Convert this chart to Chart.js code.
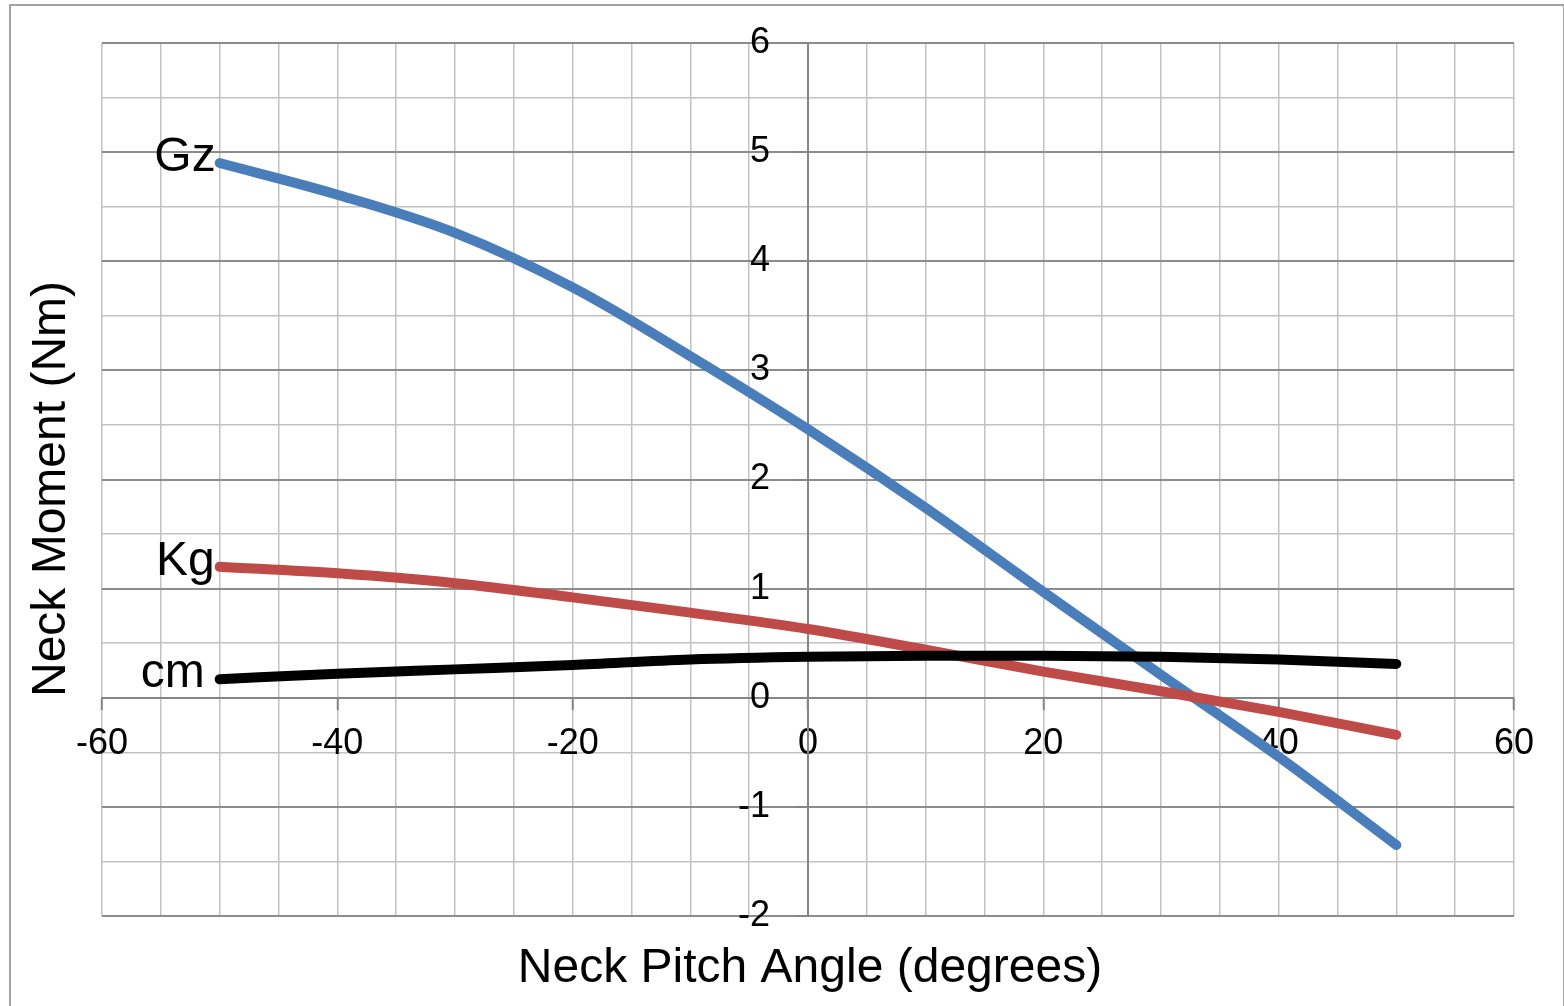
<!DOCTYPE html>
<html>
<head>
<meta charset="utf-8">
<script src="https://cdn.jsdelivr.net/npm/chart.js@4.4.1/dist/chart.umd.min.js"></script>
<style>
  html, body { margin: 0; padding: 0; background: #ffffff; }
  canvas { display: block; }
</style>
</head>
<body>
<canvas id="chart" width="1564" height="1006"></canvas>
<script>
// Neck pitch angle (degrees) at which each moment was evaluated
const angles = [-50, -40, -30, -20, -10, 0, 10, 20, 30, 40, 50];
// Neck moment components (Nm)
const gzValues = [4.90, 4.61, 4.26, 3.76, 3.13, 2.46, 1.74, 0.97, 0.21, -0.54, -1.35];
const kgValues = [1.20, 1.14, 1.05, 0.92, 0.78, 0.63, 0.44, 0.24, 0.06, -0.13, -0.34];
const cmValues = [0.17, 0.22, 0.26, 0.30, 0.35, 0.375, 0.385, 0.385, 0.375, 0.35, 0.31];
const seriesNames = ['Gz', 'Kg', 'cm'];

// Axis ranges and tick spacing
const xRange = [-60, 60];
const yRange = [-2, 6];
const xMajorStep = 20, xMinorStep = 5;
const yMajorStep = 1, yMinorStep = 0.5;
const xTitle = 'Neck Pitch Angle (degrees)';
const yTitle = 'Neck Moment (Nm)';

const FONT = "'Liberation Sans', Arial, Helvetica, sans-serif";
const AXIS_COLOR = '#868686';
const MAJOR_GRID = '#8c8c8c';
const MINOR_GRID = '#c2c2c2';

const toPoints = vals => angles.map((a, i) => ({ x: a, y: vals[i] }));
const isMultiple = (v, step) => Math.abs(v / step - Math.round(v / step)) < 1e-9;

// Series name written just left of each curve's first point
const seriesLabelStyle = [
  { dx: 4, dy: 8 },
  { dx: 5, dy: 8 },
  { dx: 15, dy: 8 }
];

const decorations = {
  id: 'decorations',
  beforeDraw(chart) {
    const c = chart.ctx;
    c.save();
    c.strokeStyle = '#a3a3a3';
    c.lineWidth = 2;
    c.strokeRect(10, 5, chart.width - 10, chart.height + 10);
    c.restore();
  },
  afterDraw(chart) {
    const c = chart.ctx;
    const xs = chart.scales.x, ys = chart.scales.y;
    const x0 = xs.getPixelForValue(0);
    c.save();
    c.fillStyle = '#000';

    // value labels of the vertical axis, beside the axis line
    c.font = `36px ${FONT}`;
    c.textAlign = 'right';
    c.textBaseline = 'middle';
    ys.ticks.forEach(t => {
      if (isMultiple(t.value, yMajorStep)) {
        c.fillText(String(t.value), x0 - 38, ys.getPixelForValue(t.value));
      }
    });

    // axis titles
    c.font = `48px ${FONT}`;
    c.textAlign = 'center';
    c.textBaseline = 'alphabetic';
    c.fillText(xTitle, (chart.chartArea.left + chart.chartArea.right) / 2 + 2, 982);
    c.save();
    c.translate(65, 489);
    c.rotate(-Math.PI / 2);
    c.fillText(yTitle, 0, 0);
    c.restore();

    // series names
    c.font = `48px ${FONT}`;
    c.textAlign = 'right';
    c.textBaseline = 'alphabetic';
    chart.data.datasets.forEach((ds, i) => {
      const el = chart.getDatasetMeta(i).data[0];
      if (!el) return;
      const s = seriesLabelStyle[i];
      c.fillText(seriesNames[i], el.x - s.dx, el.y + s.dy);
    });
    c.restore();
  }
};

const lineStyle = (color, order) => ({
  borderColor: color,
  backgroundColor: color,
  borderWidth: 10,
  showLine: true,
  cubicInterpolationMode: 'monotone',
  borderCapStyle: 'round',
  borderJoinStyle: 'round',
  pointRadius: 0,
  pointHoverRadius: 0,
  fill: false,
  order: order
});

new Chart(document.getElementById('chart'), {
  type: 'scatter',
  data: {
    datasets: [
      Object.assign({ label: seriesNames[0], data: toPoints(gzValues) }, lineStyle('#4a7ebb', 3)),
      Object.assign({ label: seriesNames[1], data: toPoints(kgValues) }, lineStyle('#be4b48', 2)),
      Object.assign({ label: seriesNames[2], data: toPoints(cmValues) }, lineStyle('#000000', 1))
    ]
  },
  options: {
    responsive: false,
    animation: false,
    devicePixelRatio: 1,
    layout: { padding: { left: 102, top: 43, right: 50, bottom: 90 } },
    plugins: {
      legend: { display: false },
      tooltip: { enabled: false }
    },
    scales: {
      x: {
        type: 'linear',
        min: xRange[0],
        max: xRange[1],
        position: { y: 0 },
        ticks: {
          stepSize: xMinorStep,
          autoSkip: false,
          maxRotation: 0,
          padding: 14,
          color: '#000',
          font: { family: FONT, size: 36 },
          callback: v => (isMultiple(v, xMajorStep) ? String(v) : '')
        },
        grid: {
          color: ctx => (ctx.tick && ctx.tick.value === 0 ? AXIS_COLOR : MINOR_GRID),
          lineWidth: 1.5,
          tickLength: 11,
          tickWidth: 2,
          tickColor: ctx => (ctx.tick && isMultiple(ctx.tick.value, xMajorStep) ? AXIS_COLOR : 'rgba(0,0,0,0)')
        },
        border: { display: true, color: AXIS_COLOR, width: 2 }
      },
      y: {
        type: 'linear',
        min: yRange[0],
        max: yRange[1],
        position: { x: 0 },
        ticks: { stepSize: yMinorStep, autoSkip: false, display: false },
        grid: {
          color: ctx => (ctx.tick && isMultiple(ctx.tick.value, yMajorStep) ? MAJOR_GRID : MINOR_GRID),
          lineWidth: ctx => (ctx.tick && isMultiple(ctx.tick.value, yMajorStep) ? 2 : 1.5),
          tickLength: 12,
          tickWidth: 2,
          tickColor: ctx => (ctx.tick && isMultiple(ctx.tick.value, yMajorStep) ? AXIS_COLOR : 'rgba(0,0,0,0)')
        },
        border: { display: true, color: AXIS_COLOR, width: 2 }
      }
    }
  },
  plugins: [decorations]
});
</script>
</body>
</html>
